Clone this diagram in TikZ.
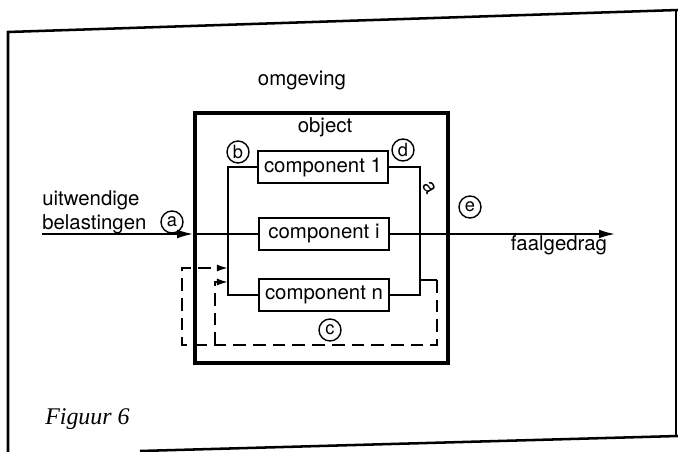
\documentclass[tikz,border=0pt]{standalone}
\usepackage{fontspec}
\setsansfont{TeX Gyre Heros}
\newfontfamily\figfont{Liberation Serif}
\usetikzlibrary{arrows.meta, positioning, calc}

\begin{document}
\begin{tikzpicture}[x=0.025cm, y=-0.025cm,
  font=\sffamily\fontsize{14.5}{17}\selectfont,
  comp/.style={draw, line width=1.3pt, minimum width=3.25cm, minimum height=0.82cm, inner sep=0pt},
  letter/.style={circle, draw, line width=1pt, minimum size=0.55cm, inner sep=0pt, font=\sffamily\fontsize{13}{15}\selectfont},
  wire/.style={line width=1.3pt},
  feedback/.style={wire, dash pattern=on 9pt off 5pt},
  tip/.style={-{Latex[length=4mm, width=2.2mm]}},
  smalltip/.style={-{Latex[length=2.8mm, width=1.8mm]}}
]

\useasboundingbox (0,0) rectangle (678,452);

% kader
\draw[line width=1.8pt] (8,452) -- (8,32) -- (678,10);
\draw[line width=1pt] (676,10) -- (676,437);
\draw[line width=1.8pt] (140,451) -- (678,436);

% omgeving en object
\node[anchor=base] (env) at (302,86) {omgeving};
\node[draw, line width=2.6pt, minimum width=6.325cm, minimum height=6.25cm] (obj) at (321.5,238) {};
\node[anchor=base] (objlbl) at (325,133) {object};

% componenten
\node[comp] (c1) at (323,167) {component 1};
\node[comp] (ci) at (324,234) {component i};
\node[comp] (cn) at (324,295) {component n};

% parallelle verbindingen
\coordinate (busl) at (228,0);
\coordinate (busr) at (420,0);
\draw[wire] (c1.west) -- (c1.west -| busl) -- (cn.west -| busl) -- (cn.west);
\draw[wire] (c1.east) -- (c1.east -| busr) -- (cn.east -| busr) -- (cn.east);

% belasting in, faalgedrag uit
\coordinate (src) at (42,234);
\coordinate (sink) at (615,234);
\draw[wire, tip] (src) -- (ci.west -| obj.west);
\draw[wire] (ci.west -| obj.west) -- (ci.west);
\draw[wire, tip] (ci.east) -- (sink);

% terugkoppeling (gestippeld)
\coordinate (tap) at (420,280);
\coordinate (fin1) at (228,268);
\coordinate (fin2) at (228,282);
\draw[wire] (tap) -- (437,280);
\draw[feedback, smalltip] (437,280) -- (437,345) -- (182,345) -- (182,268) -- (fin1);
\draw[feedback, smalltip] (215,345) -- (215,282) -- (fin2);

% omcirkelde letters
\node[letter] (la) at (172,222) {a};
\node[letter] (lb) at (238,152) {b};
\node[letter] (ld) at (403,150) {d};
\node[letter] (lc) at (330,330) {c};
\node[letter] (le) at (470,207) {e};
\node[rotate=-60] (wa) at (429,188) {a};

% teksten
\node[align=left, anchor=west, inner sep=0pt] (load) at (42,212) {uitwendige\\belastingen};
\node[anchor=base] (fail) at (559,251) {faalgedrag};
\node[anchor=base west, inner sep=0pt, font=\figfont\itshape\fontsize{17}{20}\selectfont] (cap) at (45,424) {Figuur 6};

\end{tikzpicture}
\end{document}
